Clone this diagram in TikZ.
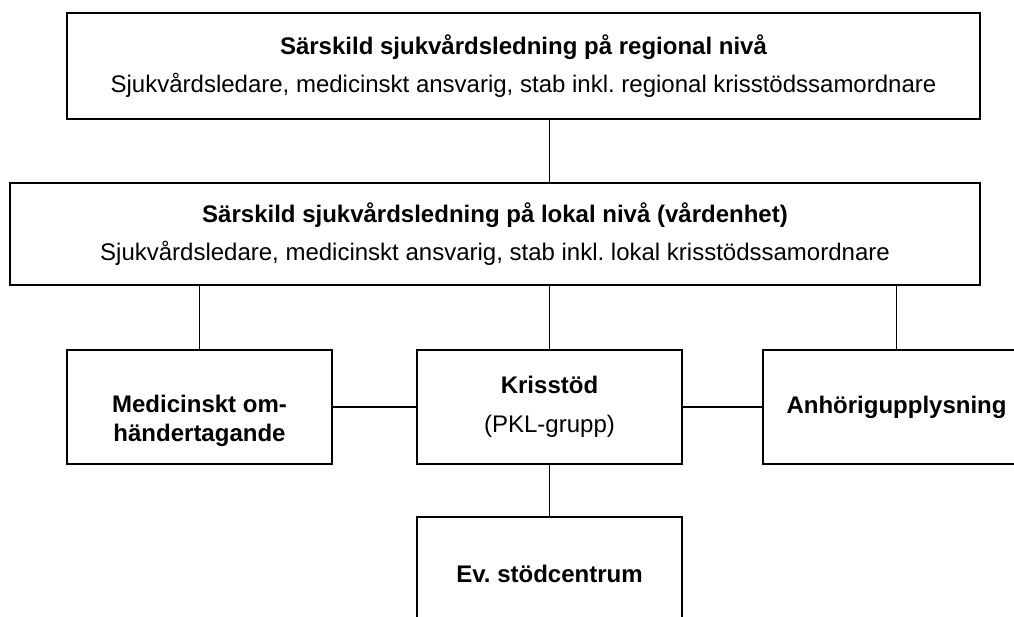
\documentclass[tikz,border=0pt]{standalone}
\usepackage{fontspec}
\setmainfont{Liberation Sans}
\begin{document}
\frenchspacing
\begin{tikzpicture}[x=1pt,y=-1pt,
  box/.style={draw,line width=1.6pt,inner sep=0pt,align=center,font=\fontsize{24}{29}\selectfont},
  plain/.style={inner sep=0pt,align=center,font=\fontsize{24}{29}\selectfont},
  conn/.style={line width=1.3pt}]
\useasboundingbox (0,0) rectangle (1014,617);
\clip (0,0) rectangle (1014,617);
\node[box,minimum width=913pt,minimum height=106pt] (top) at (523.5,66)
  {\textbf{Särskild sjukvårdsledning på regional nivå}\\[9pt]
   Sjukvårdsledare, medicinskt ansvarig, stab inkl. regional krisstödssamordnare};
\node[box,minimum width=970pt,minimum height=102pt] (mid) at (495,234)
  {\textbf{Särskild sjukvårdsledning på lokal nivå (vårdenhet)}\\[9pt]
   Sjukvårdsledare, medicinskt ansvarig, stab inkl. lokal krisstödssamordnare};
\node[box,minimum width=265pt,minimum height=114pt] (med) at (199.5,407) {};
\node[plain] (medtext) at ([yshift=-14pt]med.center)
  {\textbf{Medicinskt om-}\\\textbf{händertagande}};
\node[box,minimum width=265pt,minimum height=114pt] (kris) at (549.5,407)
  {\textbf{Krisstöd}\\[10pt](PKL-grupp)};
\node[box,minimum width=267pt,minimum height=114pt] (anh) at (896.5,407)
  {\textbf{Anhöriguppl\-ysning}};
\node[box,minimum width=265pt,minimum height=114pt] (ev) at (549.5,574)
  {\textbf{Ev. stödcentrum}};
\draw[conn] (kris.north |- top.south) -- (kris.north |- mid.north);
\draw[conn] (med.north |- mid.south) -- (med.north);
\draw[conn] (kris.north |- mid.south) -- (kris.north);
\draw[conn] (anh.north |- mid.south) -- (anh.north);
\draw[conn] (med.east) -- (kris.west);
\draw[conn] (kris.east) -- (anh.west);
\draw[conn] (kris.south) -- (ev.north);
\end{tikzpicture}
\end{document}
